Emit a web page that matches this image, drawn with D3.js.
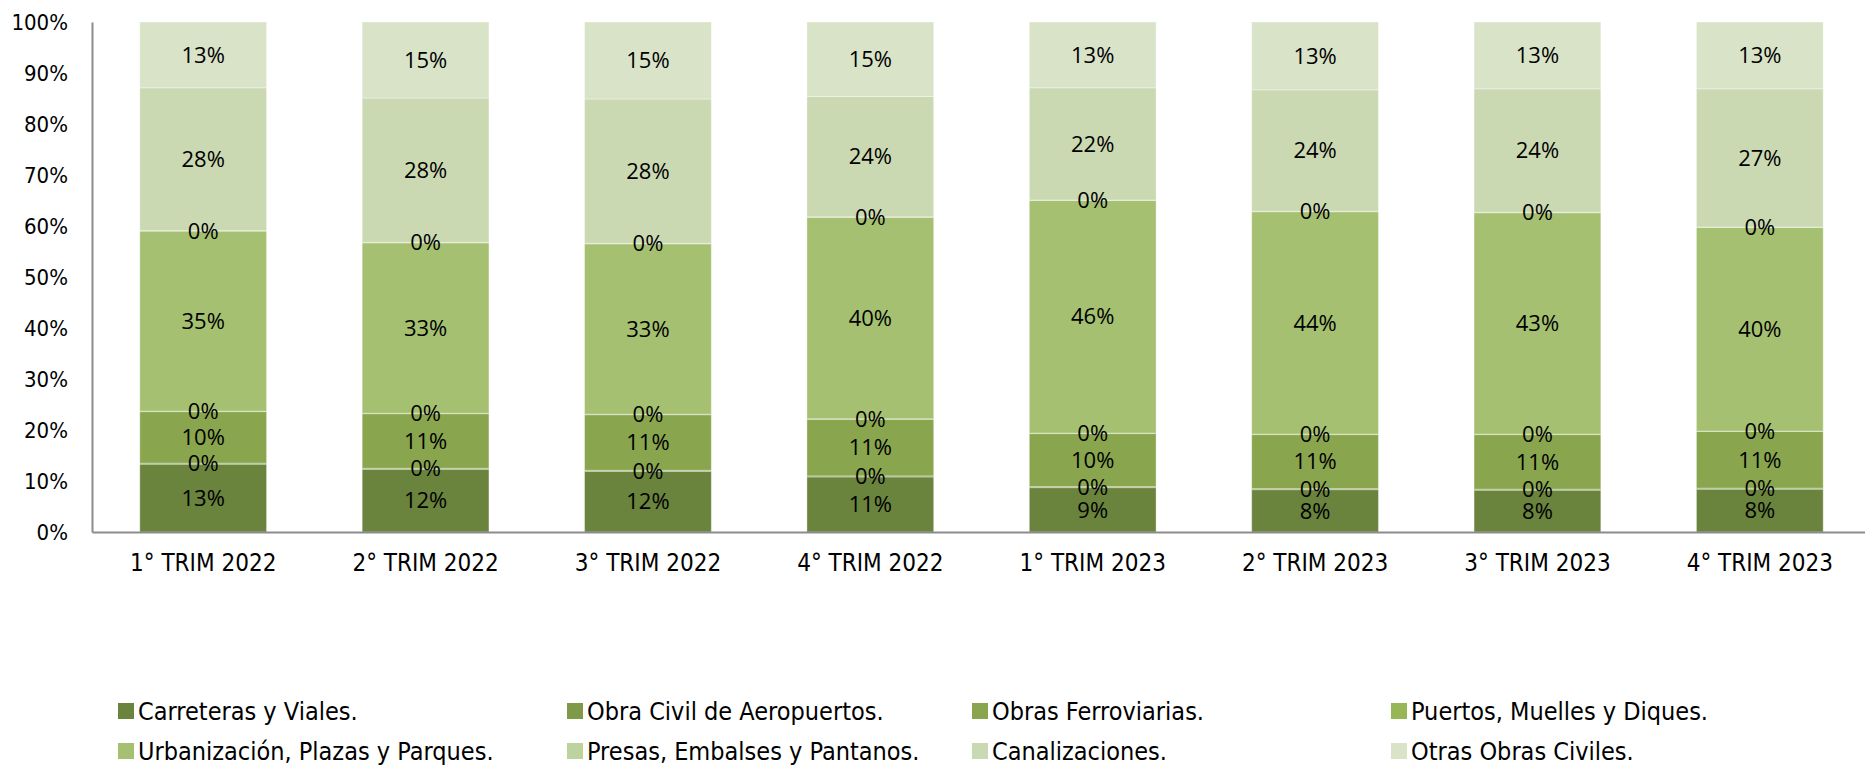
<!DOCTYPE html>
<html>
<head>
<meta charset="utf-8">
<script src="https://cdn.jsdelivr.net/npm/d3@7"></script>
<style>
  body { margin: 0; background: #fff; }
  .tick-y { font-family: 'DejaVu Sans Condensed', 'DejaVu Sans', sans-serif; font-size: 22px; fill: #000; }
  .tick-x { font-family: 'DejaVu Sans Condensed', 'DejaVu Sans', sans-serif; font-size: 24px; fill: #000; }
  .value { font-family: 'Open Sans', sans-serif; font-size: 22px; fill: #000; }
  .legend-item { font-family: 'DejaVu Sans Condensed', sans-serif; font-size: 25px; fill: #000; }
</style>
</head>
<body>
<div id="container"></div>
<script>
'use strict';

//Data
const quarters = ['1° TRIM 2022', '2° TRIM 2022', '3° TRIM 2022', '4° TRIM 2022',
                  '1° TRIM 2023', '2° TRIM 2023', '3° TRIM 2023', '4° TRIM 2023'];
const seriesNames = ['Carreteras y Viales.', 'Obra Civil de Aeropuertos.', 'Obras Ferroviarias.',
                     'Puertos, Muelles y Diques.', 'Urbanización, Plazas y Parques.',
                     'Presas, Embalses y Pantanos.', 'Canalizaciones.', 'Otras Obras Civiles.'];
const carreteras     = [13.3, 12.3, 11.9, 10.8, 8.7, 8.3, 8.2, 8.4];
const aeropuertos    = [0.2, 0.2, 0.2, 0.2, 0.2, 0.2, 0.2, 0.2];
const ferroviarias   = [10.1, 10.7, 10.9, 11.1, 10.4, 10.6, 10.7, 11.1];
const puertos        = [0.1, 0.1, 0.1, 0.1, 0.1, 0.1, 0.1, 0.1];
const urbanizacion   = [35.3, 33.4, 33.4, 39.5, 45.6, 43.6, 43.4, 39.9];
const presas         = [0.1, 0.1, 0.1, 0.1, 0.1, 0.1, 0.1, 0.1];
const canalizaciones = [28.0, 28.3, 28.3, 23.6, 22.0, 23.8, 24.2, 27.1];
const otras          = [12.9, 14.9, 15.1, 14.6, 12.9, 13.3, 13.1, 13.1];
const yTicks = [0, 10, 20, 30, 40, 50, 60, 70, 80, 90, 100];

const seriesValues = [carreteras, aeropuertos, ferroviarias, puertos,
                      urbanizacion, presas, canalizaciones, otras];
const barColors = ['#6a833d', '#7e9a47', '#89a54e', '#97b757',
                   '#a5c070', '#bdd39e', '#cbd9b2', '#d9e3c8'];

//Sizing
const VIZ = { WIDTH: 1865, HEIGHT: 770 };
const PLOT = { LEFT: 92, RIGHT: 1871, TOP: 22, BOTTOM: 532 };

const svg = d3.select('#container')
    .append('svg')
    .attr('width', VIZ.WIDTH)
    .attr('height', VIZ.HEIGHT)
    .attr('viewBox', `0 0 ${VIZ.WIDTH} ${VIZ.HEIGHT}`);

//Scales
const x = d3.scaleBand()
    .domain(quarters)
    .range([PLOT.LEFT, PLOT.RIGHT])
    .paddingInner(0.43)
    .paddingOuter(0.215);
const y = d3.scaleLinear()
    .domain([0, 100])
    .range([PLOT.BOTTOM, PLOT.TOP]);
const color = d3.scaleOrdinal()
    .domain(seriesNames)
    .range(barColors);

//Table for stacking
const table = quarters.map((q, i) => {
    const row = { quarter: q };
    seriesNames.forEach((name, j) => { row[name] = seriesValues[j][i]; });
    return row;
});
const stacked = d3.stack().keys(seriesNames)(table);

//Bars
svg.append('g')
    .selectAll('g')
    .data(stacked)
    .join('g')
    .attr('fill', d => color(d.key))
    .selectAll('rect')
    .data(d => d)
    .join('rect')
    .attr('x', d => x(d.data.quarter))
    .attr('y', d => y(d[1]))
    .attr('width', x.bandwidth())
    .attr('height', d => y(d[0]) - y(d[1]))
    .attr('stroke', '#ffffff')
    .attr('stroke-opacity', 0.35)
    .attr('stroke-width', 1);

//Value labels, drawn above every bar
svg.append('g')
    .selectAll('g')
    .data(stacked)
    .join('g')
    .selectAll('text')
    .data(d => d)
    .join('text')
    .attr('class', 'value')
    .attr('x', d => x(d.data.quarter) + x.bandwidth() / 2)
    .attr('y', d => (y(d[0]) + y(d[1])) / 2)
    .attr('dy', '0.35em')
    .attr('text-anchor', 'middle')
    .text(d => `${Math.round(d[1] - d[0])}%`);

//Y axis
const yAxis = d3.axisLeft(y)
    .tickValues(yTicks)
    .tickSize(0)
    .tickPadding(24)
    .tickFormat(d => `${d}%`);
const gy = svg.append('g')
    .attr('transform', `translate(${PLOT.LEFT},0)`)
    .call(yAxis);
gy.select('.domain').attr('stroke', '#8c8c8c').attr('stroke-width', 2);
gy.selectAll('text').attr('class', 'tick-y').attr('font-family', null).attr('font-size', null);

//X axis
const xAxis = d3.axisBottom(x)
    .tickSize(0)
    .tickPadding(22);
const gx = svg.append('g')
    .attr('transform', `translate(0,${PLOT.BOTTOM})`)
    .call(xAxis);
gx.select('.domain').attr('stroke', '#8c8c8c').attr('stroke-width', 2);
gx.selectAll('text').attr('class', 'tick-x').attr('font-family', null).attr('font-size', null);

//Legend
const legendCols = [118, 567, 972, 1391];
const legendRows = [711, 751];
const legend = svg.append('g');
seriesNames.forEach((name, i) => {
    const item = legend.append('g')
        .attr('transform', `translate(${legendCols[i % 4]},${legendRows[Math.floor(i / 4)]})`);
    item.append('rect')
        .attr('x', 0)
        .attr('y', -8)
        .attr('width', 16)
        .attr('height', 16)
        .attr('fill', color(name));
    item.append('text')
        .attr('class', 'legend-item')
        .attr('x', 20)
        .attr('y', 0)
        .attr('dy', '0.35em')
        .text(name);
});
</script>
</body>
</html>
